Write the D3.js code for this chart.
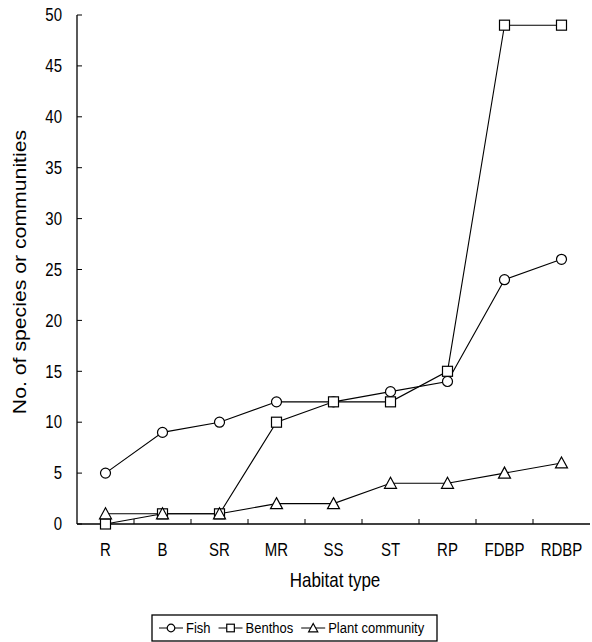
<!DOCTYPE html>
<html>
<head>
<meta charset="utf-8">
<script src="https://cdn.jsdelivr.net/npm/d3@7"></script>
<style>
  body { margin: 0; background: #fff; }
  text { font-family: "Liberation Sans", Arial, sans-serif; fill: #000; }
</style>
</head>
<body>
<script>
// habitat categories and counts
const habitats = ["R", "B", "SR", "MR", "SS", "ST", "RP", "FDBP", "RDBP"];
const fish = [5, 9, 10, 12, 12, 13, 14, 24, 26];
const benthos = [0, 1, 1, 10, 12, 12, 15, 49, 49];
const plants = [1, 1, 1, 2, 2, 4, 4, 5, 6];
const yTicks = [0, 5, 10, 15, 20, 25, 30, 35, 40, 45, 50];

const series = [
  {name: "Fish", values: fish, shape: "circle"},
  {name: "Benthos", values: benthos, shape: "square"},
  {name: "Plant community", values: plants, shape: "triangle"}
];

const svg = d3.select("body").append("svg")
  .attr("width", 592).attr("height", 642);

const x = d3.scaleBand().domain(habitats).range([77, 590]);
const y = d3.scaleLinear().domain([0, 50]).range([524, 15]);

// text in the scan looks a bit taller than wide
const stretch = 1.18;
function label(g, tx, ty, str, size, anchor, rot) {
  return g.append("text")
    .attr("transform", `translate(${tx},${ty})` + (rot ? " rotate(-90) scale(" + stretch + ",1)" : " scale(1," + stretch + ")"))
    .attr("text-anchor", anchor)
    .attr("dy", "0.35em")
    .style("font-size", size + "px")
    .text(str);
}

// y axis, ticks inside
const ya = svg.append("g");
ya.append("line").attr("x1", 77).attr("x2", 77).attr("y1", y(50)).attr("y2", y(0))
  .attr("stroke", "#000").attr("stroke-width", 1.3);
yTicks.forEach(t => {
  ya.append("line").attr("x1", 77).attr("x2", 82).attr("y1", y(t)).attr("y2", y(t)).attr("stroke", "#000");
  label(ya, 62, y(t), String(t), 15, "end");
});

// x axis, ticks at band edges pointing inward
const xa = svg.append("g");
xa.append("line").attr("x1", 77).attr("x2", 590).attr("y1", 524).attr("y2", 524)
  .attr("stroke", "#000").attr("stroke-width", 1.3);
xa.selectAll("line.tk").data(habitats.slice(1)).join("line")
  .attr("class", "tk")
  .attr("x1", d => x(d)).attr("x2", d => x(d))
  .attr("y1", 524).attr("y2", 519).attr("stroke", "#000");
habitats.forEach(h => label(xa, x(h) + x.bandwidth() / 2, 550, h, 15, "middle"));

label(svg, 335, 580, "Habitat type", 17, "middle");
label(svg, 20, 272, "No. of species or communities", 18, "middle", true);

const cx = (d, i) => x(habitats[i]) + x.bandwidth() / 2;
const line = d3.line().x(cx).y(d => y(d));

function marker(g, shape, r) {
  if (shape === "circle") g.append("circle").attr("r", r);
  else if (shape === "square") g.append("rect").attr("x", -r).attr("y", -r).attr("width", 2 * r).attr("height", 2 * r);
  else g.append("path").attr("d", `M0,${-r * 1.2}L${r * 1.2},${r}L${-r * 1.2},${r}Z`);
  g.selectAll("*").attr("fill", "#fff").attr("stroke", "#000").attr("stroke-width", 1.2);
}

series.forEach(s => {
  svg.append("path").datum(s.values)
    .attr("d", line).attr("fill", "none").attr("stroke", "#000").attr("stroke-width", 1.1);
});
series.forEach(s => {
  svg.append("g").selectAll("g").data(s.values).join("g")
    .attr("transform", (d, i) => `translate(${cx(d, i)},${y(d)})`)
    .each(function() { marker(d3.select(this), s.shape, 5); });
});

// legend
const lg = svg.append("g").attr("transform", "translate(152,615)");
lg.append("rect").attr("width", 285).attr("height", 26)
  .attr("fill", "#fff").attr("stroke", "#000").attr("stroke-width", 1.3);
let lx = 7;
series.forEach(s => {
  const it = lg.append("g").attr("transform", `translate(${lx},13)`);
  it.append("line").attr("x1", 0).attr("x2", 24).attr("stroke", "#000");
  const m = it.append("g").attr("transform", "translate(12,0)");
  marker(m, s.shape, 3.8);
  const t = label(it, 27, 0, s.name, 13, "start");
  lx += 27 + t.node().getComputedTextLength() + 8;
});
</script>
</body>
</html>
